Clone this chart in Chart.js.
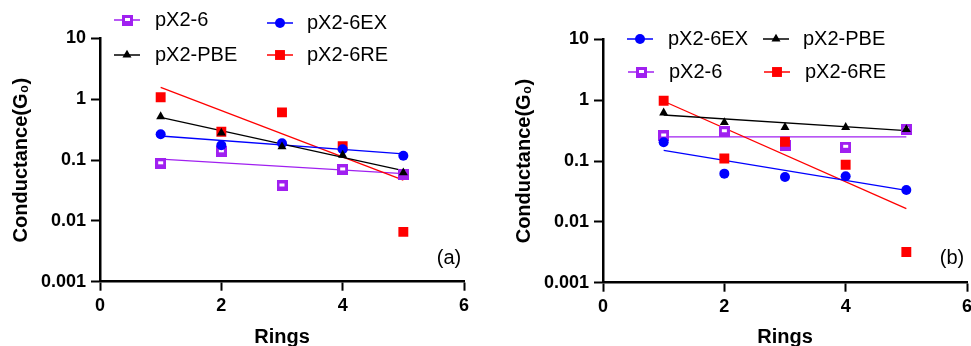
<!DOCTYPE html>
<html>
<head>
<meta charset="utf-8">
<script src="https://cdn.jsdelivr.net/npm/chart.js@4.4.1/dist/chart.umd.min.js"></script>
<style>
  html, body { margin: 0; padding: 0; background: #fff; overflow: hidden; width: 971px; height: 346px; }
  canvas { position: absolute; top: 0; }
  #panelA { left: 0; }
  #panelB { left: 503px; }
</style>
</head>
<body>
<canvas id="panelA" width="490" height="360"></canvas>
<canvas id="panelB" width="490" height="360"></canvas>
<script>
// x positions (rings) and axis ticks
const rings = [1, 2, 3, 4, 5];
const fitRings = [1, 5];
const xTicks = [0, 2, 4, 6];
const yTicks = [0.001, 0.01, 0.1, 1, 10];
const yTickLabels = ['0.001', '0.01', '0.1', '1', '10'];

// panel (a) measured conductance
const aPX26 = [0.087, 0.137, 0.0375, 0.069, 0.059];
const aPX26EX = [0.266, 0.175, 0.189, 0.151, 0.118];
const aPX2PBE = [0.52, 0.28, 0.166, 0.121, 0.062];
const aPX26RE = [1.08, 0.293, 0.61, 0.17, 0.0066];
// panel (a) fit lines (values at ring 1 and ring 5)
const aFitPX26 = [0.104, 0.06];
const aFitPX26EX = [0.249, 0.127];
const aFitPX2PBE = [0.505, 0.067];
const aFitPX26RE = [1.57, 0.047];

// panel (b) measured conductance
const bPX26EX = [0.203, 0.062, 0.0546, 0.056, 0.0334];
const bPX2PBE = [0.62, 0.43, 0.358, 0.358, 0.33];
const bPX26 = [0.258, 0.303, 0.181, 0.168, 0.33];
const bPX26RE = [0.98, 0.11, 0.207, 0.087, 0.0032];
// panel (b) fit lines
const bFitPX26EX = [0.15, 0.033];
const bFitPX2PBE = [0.57, 0.315];
const bFitPX26 = [0.25, 0.25];
const bFitPX26RE = [0.96, 0.0165];

const FONT = "'Liberation Sans', Arial, sans-serif";
const PURPLE = '#a020f0';

// open purple square marker (thick border with white slot)
function makePurpleMarker() {
    const c = document.createElement('canvas');
    c.width = 11; c.height = 11;
    const g = c.getContext('2d');
    g.fillStyle = PURPLE;
    g.fillRect(0, 0, 11, 11);
    g.fillStyle = '#fff';
    g.fillRect(3, 3, 5, 3);
    return c;
}
const purpleMarker = makePurpleMarker();

const styles = {
    'pX2-6':   { color: PURPLE,    pointStyle: purpleMarker, radius: 6, order: 4 },
    'pX2-6EX': { color: '#0000ff', pointStyle: 'circle',   radius: 5, order: 2 },
    'pX2-PBE': { color: '#000000', pointStyle: 'triangle', radius: 5.2, order: 1 },
    'pX2-6RE': { color: '#ff0000', pointStyle: 'rect',     radius: 7, order: 3 }
};

function drawMarker(ctx, st, x, y) {
    ctx.save();
    ctx.fillStyle = st.color;
    if (st.pointStyle === 'circle') {
        ctx.beginPath(); ctx.arc(x, y, st.radius, 0, Math.PI * 2); ctx.fill();
    } else if (st.pointStyle === 'rect') {
        const s = st.radius * Math.SQRT1_2;
        ctx.fillRect(x - s, y - s, 2 * s, 2 * s);
    } else if (st.pointStyle === 'triangle') {
        const r = st.radius;
        ctx.beginPath();
        ctx.moveTo(x, y - r);
        ctx.lineTo(x + r * Math.sin(2 * Math.PI / 3), y + r / 2);
        ctx.lineTo(x - r * Math.sin(2 * Math.PI / 3), y + r / 2);
        ctx.closePath(); ctx.fill();
    } else {
        ctx.drawImage(st.pointStyle, Math.round(x - 5.5), Math.round(y - 5.5));
    }
    ctx.restore();
}

// legend + panel letter drawn on the canvas
const panelDecor = {
    id: 'panelDecor',
    afterDraw(chart, args, opts) {
        const ctx = chart.ctx;
        ctx.save();
        ctx.textBaseline = 'middle';
        ctx.textAlign = 'left';
        ctx.font = '20px ' + FONT;
        opts.legend.forEach(item => {
            const st = styles[item.label];
            ctx.strokeStyle = st.color;
            ctx.lineWidth = 1.5;
            ctx.beginPath();
            ctx.moveTo(item.x, item.y);
            ctx.lineTo(item.x + 26, item.y);
            ctx.stroke();
            drawMarker(ctx, st, item.x + 13, item.y);
            ctx.fillStyle = '#000';
            ctx.fillText(item.label, item.textX, item.y);
        });
        ctx.textAlign = 'center';
        ctx.fillText(opts.tag, opts.tagX, opts.tagY);
        ctx.restore();
    }
};

function makePanel(id, series, legend, tag, plotTop, plotBottom) {
    const datasets = [];
    series.forEach(s => {
        const st = styles[s.label];
        datasets.push({
            label: s.label,
            data: rings.map((x, i) => ({ x: x, y: s.values[i] })),
            showLine: false,
            pointStyle: st.pointStyle,
            pointRadius: st.radius,
            pointBackgroundColor: st.color,
            pointBorderColor: st.color,
            pointBorderWidth: 0,
            order: st.order
        });
        datasets.push({
            label: s.label + ' fit',
            data: fitRings.map((x, i) => ({ x: x, y: s.fit[i] })),
            showLine: true,
            pointRadius: 0,
            borderColor: st.color,
            borderWidth: 1.3,
            order: 10 + st.order
        });
    });

    const ctx = document.getElementById(id).getContext('2d');
    new Chart(ctx, {
        type: 'scatter',
        data: { datasets: datasets },
        plugins: [panelDecor],
        options: {
            responsive: false,
            animation: false,
            layout: { padding: { left: 0, right: 26, top: plotTop, bottom: 0 } },
            plugins: {
                legend: { display: false },
                tooltip: { enabled: false },
                panelDecor: { legend: legend, tag: tag, tagX: 449, tagY: 258 }
            },
            scales: {
                x: {
                    type: 'linear',
                    min: 0, max: 6,
                    afterBuildTicks: s => { s.ticks = xTicks.map(v => ({ value: v })); },
                    afterFit: s => { s.height = 360 - plotBottom; },
                    ticks: { color: '#000', padding: 5, font: { family: FONT, size: 18, weight: 'bold' } },
                    grid: { drawOnChartArea: false, tickLength: 9, tickWidth: 2, tickColor: '#000' },
                    border: { color: '#000', width: 2.5 },
                    title: { display: true, text: 'Rings', color: '#000',
                             font: { family: FONT, size: 20, weight: 'bold' },
                             padding: { top: 0, bottom: 11 } }
                },
                y: {
                    type: 'logarithmic',
                    min: 0.001, max: 10,
                    afterBuildTicks: s => { s.ticks = yTicks.map(v => ({ value: v })); },
                    afterFit: s => { s.width = 100; },
                    ticks: { color: '#000', padding: 5, autoSkip: false,
                             callback: (v, i) => yTickLabels[i],
                             font: { family: FONT, size: 18, weight: 'bold' } },
                    grid: { drawOnChartArea: false, tickLength: 9, tickWidth: 2, tickColor: '#000' },
                    border: { color: '#000', width: 2.5 },
                    title: { display: true, text: 'Conductance(G\u2080)', color: '#000',
                             font: { family: FONT, size: 20, weight: 'bold' },
                             padding: { top: 9, bottom: 0 } }
                }
            }
        }
    });
}

makePanel('panelA', [
    { label: 'pX2-6', values: aPX26, fit: aFitPX26 },
    { label: 'pX2-6EX', values: aPX26EX, fit: aFitPX26EX },
    { label: 'pX2-PBE', values: aPX2PBE, fit: aFitPX2PBE },
    { label: 'pX2-6RE', values: aPX26RE, fit: aFitPX26RE }
], [
    { label: 'pX2-6',   x: 114, y: 20, textX: 155 },
    { label: 'pX2-6EX', x: 267, y: 23, textX: 307 },
    { label: 'pX2-PBE', x: 114, y: 55, textX: 155 },
    { label: 'pX2-6RE', x: 267, y: 55, textX: 307 }
], '(a)', 38.5, 281.7);

makePanel('panelB', [
    { label: 'pX2-6EX', values: bPX26EX, fit: bFitPX26EX },
    { label: 'pX2-PBE', values: bPX2PBE, fit: bFitPX2PBE },
    { label: 'pX2-6', values: bPX26, fit: bFitPX26 },
    { label: 'pX2-6RE', values: bPX26RE, fit: bFitPX26RE }
], [
    { label: 'pX2-6EX', x: 124, y: 39, textX: 165 },
    { label: 'pX2-PBE', x: 260, y: 39, textX: 300 },
    { label: 'pX2-6',   x: 125, y: 72, textX: 166 },
    { label: 'pX2-6RE', x: 261, y: 72, textX: 302 }
], '(b)', 39.3, 282.7);
</script>
</body>
</html>
